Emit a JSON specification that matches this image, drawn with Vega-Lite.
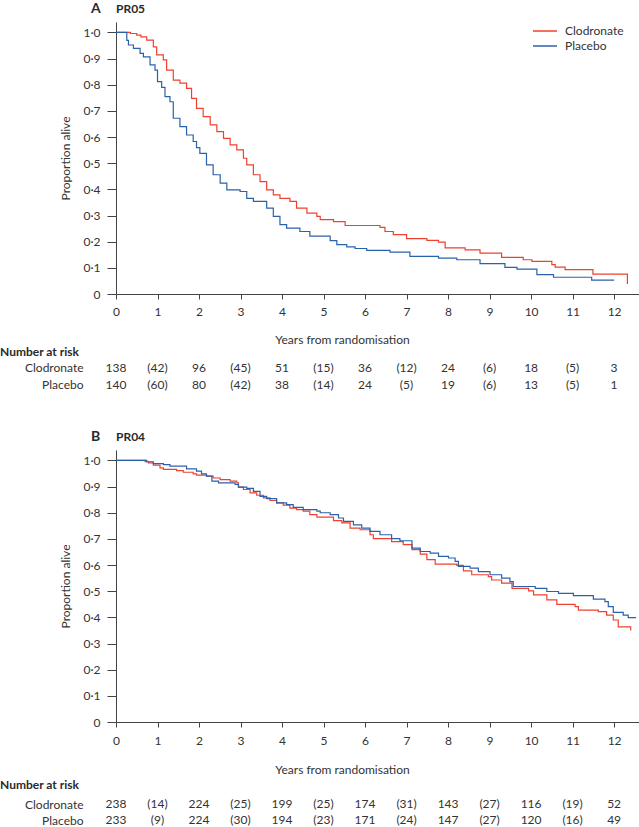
{
"$schema": "https://vega.github.io/schema/vega-lite/v6.json",
"padding": {"left": 0, "top": 1, "right": 0, "bottom": 0},
"background": "white",
"config": {
  "font": "Lato",
  "view": {"stroke": null},
  "axis": {"labelFont": "Lato", "labelFontSize": 12, "labelColor": "#333333", "titleFont": "Lato", "titleFontSize": 12, "titleFontWeight": "normal", "titleColor": "#333333", "domainColor": "#444444", "tickColor": "#444444", "grid": false, "labelFlush": false},
  "legend": {"labelFont": "Lato", "labelFontSize": 12, "labelColor": "#333333"},
  "title": {"font": "Lato", "color": "#2a2a2a"}
},
"datasets": {
"curves": [
{"panel":"A","arm":"Clodronate","t":0,"s":1},{"panel":"A","arm":"Clodronate","t":0.35,"s":0.996},{"panel":"A","arm":"Clodronate","t":0.5,"s":0.99},{"panel":"A","arm":"Clodronate","t":0.6,"s":0.983},{"panel":"A","arm":"Clodronate","t":0.74,"s":0.971},{"panel":"A","arm":"Clodronate","t":0.9,"s":0.945},{"panel":"A","arm":"Clodronate","t":0.98,"s":0.914},{"panel":"A","arm":"Clodronate","t":1.14,"s":0.895},{"panel":"A","arm":"Clodronate","t":1.22,"s":0.856},{"panel":"A","arm":"Clodronate","t":1.38,"s":0.818},{"panel":"A","arm":"Clodronate","t":1.54,"s":0.806},{"panel":"A","arm":"Clodronate","t":1.7,"s":0.786},{"panel":"A","arm":"Clodronate","t":1.82,"s":0.748},{"panel":"A","arm":"Clodronate","t":1.94,"s":0.71},{"panel":"A","arm":"Clodronate","t":2.1,"s":0.678},{"panel":"A","arm":"Clodronate","t":2.27,"s":0.647},{"panel":"A","arm":"Clodronate","t":2.43,"s":0.621},{"panel":"A","arm":"Clodronate","t":2.59,"s":0.595},{"panel":"A","arm":"Clodronate","t":2.75,"s":0.57},{"panel":"A","arm":"Clodronate","t":2.91,"s":0.551},{"panel":"A","arm":"Clodronate","t":3.07,"s":0.519},{"panel":"A","arm":"Clodronate","t":3.15,"s":0.494},{"panel":"A","arm":"Clodronate","t":3.31,"s":0.456},{"panel":"A","arm":"Clodronate","t":3.47,"s":0.43},{"panel":"A","arm":"Clodronate","t":3.63,"s":0.398},{"panel":"A","arm":"Clodronate","t":3.79,"s":0.379},{"panel":"A","arm":"Clodronate","t":3.95,"s":0.366},{"panel":"A","arm":"Clodronate","t":4.19,"s":0.354},{"panel":"A","arm":"Clodronate","t":4.35,"s":0.328},{"panel":"A","arm":"Clodronate","t":4.6,"s":0.309},{"panel":"A","arm":"Clodronate","t":4.84,"s":0.297},{"panel":"A","arm":"Clodronate","t":4.92,"s":0.284},{"panel":"A","arm":"Clodronate","t":5.24,"s":0.277},{"panel":"A","arm":"Clodronate","t":5.52,"s":0.262},{"panel":"A","arm":"Clodronate","t":6.36,"s":0.255},{"panel":"A","arm":"Clodronate","t":6.48,"s":0.239},{"panel":"A","arm":"Clodronate","t":6.68,"s":0.227},{"panel":"A","arm":"Clodronate","t":7.0,"s":0.212},{"panel":"A","arm":"Clodronate","t":7.49,"s":0.205},{"panel":"A","arm":"Clodronate","t":7.77,"s":0.198},{"panel":"A","arm":"Clodronate","t":7.93,"s":0.176},{"panel":"A","arm":"Clodronate","t":8.41,"s":0.169},{"panel":"A","arm":"Clodronate","t":8.77,"s":0.156},{"panel":"A","arm":"Clodronate","t":9.29,"s":0.14},{"panel":"A","arm":"Clodronate","t":9.81,"s":0.131},{"panel":"A","arm":"Clodronate","t":10.02,"s":0.125},{"panel":"A","arm":"Clodronate","t":10.5,"s":0.112},{"panel":"A","arm":"Clodronate","t":10.58,"s":0.103},{"panel":"A","arm":"Clodronate","t":10.82,"s":0.093},{"panel":"A","arm":"Clodronate","t":11.49,"s":0.076},{"panel":"A","arm":"Clodronate","t":12.32,"s":0.038},
{"panel":"A","arm":"Placebo","t":0,"s":1},{"panel":"A","arm":"Placebo","t":0.26,"s":0.97},{"panel":"A","arm":"Placebo","t":0.3,"s":0.952},{"panel":"A","arm":"Placebo","t":0.42,"s":0.939},{"panel":"A","arm":"Placebo","t":0.58,"s":0.92},{"panel":"A","arm":"Placebo","t":0.66,"s":0.907},{"panel":"A","arm":"Placebo","t":0.82,"s":0.876},{"panel":"A","arm":"Placebo","t":0.94,"s":0.856},{"panel":"A","arm":"Placebo","t":1.0,"s":0.812},{"panel":"A","arm":"Placebo","t":1.1,"s":0.79},{"panel":"A","arm":"Placebo","t":1.18,"s":0.755},{"panel":"A","arm":"Placebo","t":1.3,"s":0.735},{"panel":"A","arm":"Placebo","t":1.38,"s":0.672},{"panel":"A","arm":"Placebo","t":1.54,"s":0.64},{"panel":"A","arm":"Placebo","t":1.7,"s":0.608},{"panel":"A","arm":"Placebo","t":1.86,"s":0.583},{"panel":"A","arm":"Placebo","t":1.94,"s":0.56},{"panel":"A","arm":"Placebo","t":2.02,"s":0.538},{"panel":"A","arm":"Placebo","t":2.18,"s":0.494},{"panel":"A","arm":"Placebo","t":2.34,"s":0.456},{"panel":"A","arm":"Placebo","t":2.51,"s":0.424},{"panel":"A","arm":"Placebo","t":2.67,"s":0.398},{"panel":"A","arm":"Placebo","t":2.99,"s":0.392},{"panel":"A","arm":"Placebo","t":3.15,"s":0.366},{"panel":"A","arm":"Placebo","t":3.31,"s":0.354},{"panel":"A","arm":"Placebo","t":3.63,"s":0.328},{"panel":"A","arm":"Placebo","t":3.79,"s":0.297},{"panel":"A","arm":"Placebo","t":3.95,"s":0.265},{"panel":"A","arm":"Placebo","t":4.11,"s":0.252},{"panel":"A","arm":"Placebo","t":4.43,"s":0.239},{"panel":"A","arm":"Placebo","t":4.67,"s":0.221},{"panel":"A","arm":"Placebo","t":5.16,"s":0.204},{"panel":"A","arm":"Placebo","t":5.32,"s":0.189},{"panel":"A","arm":"Placebo","t":5.56,"s":0.18},{"panel":"A","arm":"Placebo","t":5.76,"s":0.174},{"panel":"A","arm":"Placebo","t":6.04,"s":0.167},{"panel":"A","arm":"Placebo","t":6.6,"s":0.16},{"panel":"A","arm":"Placebo","t":7.08,"s":0.144},{"panel":"A","arm":"Placebo","t":7.77,"s":0.137},{"panel":"A","arm":"Placebo","t":8.21,"s":0.131},{"panel":"A","arm":"Placebo","t":8.77,"s":0.116},{"panel":"A","arm":"Placebo","t":9.37,"s":0.102},{"panel":"A","arm":"Placebo","t":9.66,"s":0.095},{"panel":"A","arm":"Placebo","t":10.14,"s":0.074},{"panel":"A","arm":"Placebo","t":10.54,"s":0.064},{"panel":"A","arm":"Placebo","t":11.46,"s":0.053},{"panel":"A","arm":"Placebo","t":12.0,"s":0.053},
{"panel":"B","arm":"Clodronate","t":0,"s":1},{"panel":"B","arm":"Clodronate","t":0.7,"s":0.995},{"panel":"B","arm":"Clodronate","t":0.78,"s":0.991},{"panel":"B","arm":"Clodronate","t":0.9,"s":0.982},{"panel":"B","arm":"Clodronate","t":1.06,"s":0.972},{"panel":"B","arm":"Clodronate","t":1.14,"s":0.966},{"panel":"B","arm":"Clodronate","t":1.46,"s":0.961},{"panel":"B","arm":"Clodronate","t":1.62,"s":0.955},{"panel":"B","arm":"Clodronate","t":1.86,"s":0.949},{"panel":"B","arm":"Clodronate","t":1.94,"s":0.944},{"panel":"B","arm":"Clodronate","t":2.18,"s":0.94},{"panel":"B","arm":"Clodronate","t":2.34,"s":0.933},{"panel":"B","arm":"Clodronate","t":2.51,"s":0.927},{"panel":"B","arm":"Clodronate","t":2.75,"s":0.921},{"panel":"B","arm":"Clodronate","t":2.91,"s":0.914},{"panel":"B","arm":"Clodronate","t":2.95,"s":0.898},{"panel":"B","arm":"Clodronate","t":3.07,"s":0.889},{"panel":"B","arm":"Clodronate","t":3.23,"s":0.876},{"panel":"B","arm":"Clodronate","t":3.39,"s":0.867},{"panel":"B","arm":"Clodronate","t":3.55,"s":0.857},{"panel":"B","arm":"Clodronate","t":3.71,"s":0.847},{"panel":"B","arm":"Clodronate","t":3.87,"s":0.838},{"panel":"B","arm":"Clodronate","t":4.03,"s":0.829},{"panel":"B","arm":"Clodronate","t":4.19,"s":0.818},{"panel":"B","arm":"Clodronate","t":4.35,"s":0.812},{"panel":"B","arm":"Clodronate","t":4.51,"s":0.806},{"panel":"B","arm":"Clodronate","t":4.67,"s":0.793},{"panel":"B","arm":"Clodronate","t":4.84,"s":0.783},{"panel":"B","arm":"Clodronate","t":5.24,"s":0.77},{"panel":"B","arm":"Clodronate","t":5.44,"s":0.761},{"panel":"B","arm":"Clodronate","t":5.64,"s":0.741},{"panel":"B","arm":"Clodronate","t":5.88,"s":0.735},{"panel":"B","arm":"Clodronate","t":6.12,"s":0.716},{"panel":"B","arm":"Clodronate","t":6.2,"s":0.701},{"panel":"B","arm":"Clodronate","t":6.64,"s":0.69},{"panel":"B","arm":"Clodronate","t":6.92,"s":0.678},{"panel":"B","arm":"Clodronate","t":7.13,"s":0.659},{"panel":"B","arm":"Clodronate","t":7.33,"s":0.642},{"panel":"B","arm":"Clodronate","t":7.49,"s":0.621},{"panel":"B","arm":"Clodronate","t":7.69,"s":0.604},{"panel":"B","arm":"Clodronate","t":8.21,"s":0.599},{"panel":"B","arm":"Clodronate","t":8.37,"s":0.578},{"panel":"B","arm":"Clodronate","t":8.57,"s":0.563},{"panel":"B","arm":"Clodronate","t":8.97,"s":0.556},{"panel":"B","arm":"Clodronate","t":9.05,"s":0.543},{"panel":"B","arm":"Clodronate","t":9.29,"s":0.531},{"panel":"B","arm":"Clodronate","t":9.54,"s":0.511},{"panel":"B","arm":"Clodronate","t":9.94,"s":0.501},{"panel":"B","arm":"Clodronate","t":10.06,"s":0.486},{"panel":"B","arm":"Clodronate","t":10.38,"s":0.467},{"panel":"B","arm":"Clodronate","t":10.62,"s":0.45},{"panel":"B","arm":"Clodronate","t":11.06,"s":0.441},{"panel":"B","arm":"Clodronate","t":11.14,"s":0.428},{"panel":"B","arm":"Clodronate","t":11.62,"s":0.422},{"panel":"B","arm":"Clodronate","t":11.82,"s":0.409},{"panel":"B","arm":"Clodronate","t":11.98,"s":0.39},{"panel":"B","arm":"Clodronate","t":12.1,"s":0.364},{"panel":"B","arm":"Clodronate","t":12.4,"s":0.35},
{"panel":"B","arm":"Placebo","t":0,"s":1},{"panel":"B","arm":"Placebo","t":0.74,"s":0.995},{"panel":"B","arm":"Placebo","t":0.9,"s":0.988},{"panel":"B","arm":"Placebo","t":1.14,"s":0.984},{"panel":"B","arm":"Placebo","t":1.3,"s":0.978},{"panel":"B","arm":"Placebo","t":1.7,"s":0.968},{"panel":"B","arm":"Placebo","t":1.94,"s":0.959},{"panel":"B","arm":"Placebo","t":2.06,"s":0.949},{"panel":"B","arm":"Placebo","t":2.18,"s":0.94},{"panel":"B","arm":"Placebo","t":2.31,"s":0.921},{"panel":"B","arm":"Placebo","t":2.47,"s":0.914},{"panel":"B","arm":"Placebo","t":2.87,"s":0.908},{"panel":"B","arm":"Placebo","t":2.95,"s":0.898},{"panel":"B","arm":"Placebo","t":3.15,"s":0.893},{"panel":"B","arm":"Placebo","t":3.31,"s":0.882},{"panel":"B","arm":"Placebo","t":3.47,"s":0.863},{"panel":"B","arm":"Placebo","t":3.63,"s":0.854},{"panel":"B","arm":"Placebo","t":3.87,"s":0.838},{"panel":"B","arm":"Placebo","t":4.11,"s":0.831},{"panel":"B","arm":"Placebo","t":4.27,"s":0.821},{"panel":"B","arm":"Placebo","t":4.51,"s":0.812},{"panel":"B","arm":"Placebo","t":4.84,"s":0.806},{"panel":"B","arm":"Placebo","t":4.92,"s":0.8},{"panel":"B","arm":"Placebo","t":5.16,"s":0.793},{"panel":"B","arm":"Placebo","t":5.36,"s":0.78},{"panel":"B","arm":"Placebo","t":5.48,"s":0.767},{"panel":"B","arm":"Placebo","t":5.72,"s":0.754},{"panel":"B","arm":"Placebo","t":5.92,"s":0.741},{"panel":"B","arm":"Placebo","t":6.12,"s":0.729},{"panel":"B","arm":"Placebo","t":6.36,"s":0.716},{"panel":"B","arm":"Placebo","t":6.64,"s":0.701},{"panel":"B","arm":"Placebo","t":6.84,"s":0.693},{"panel":"B","arm":"Placebo","t":7.13,"s":0.665},{"panel":"B","arm":"Placebo","t":7.33,"s":0.652},{"panel":"B","arm":"Placebo","t":7.57,"s":0.646},{"panel":"B","arm":"Placebo","t":7.77,"s":0.633},{"panel":"B","arm":"Placebo","t":8.01,"s":0.627},{"panel":"B","arm":"Placebo","t":8.17,"s":0.614},{"panel":"B","arm":"Placebo","t":8.25,"s":0.595},{"panel":"B","arm":"Placebo","t":8.53,"s":0.588},{"panel":"B","arm":"Placebo","t":8.73,"s":0.575},{"panel":"B","arm":"Placebo","t":9.01,"s":0.563},{"panel":"B","arm":"Placebo","t":9.29,"s":0.55},{"panel":"B","arm":"Placebo","t":9.49,"s":0.537},{"panel":"B","arm":"Placebo","t":9.57,"s":0.518},{"panel":"B","arm":"Placebo","t":10.1,"s":0.511},{"panel":"B","arm":"Placebo","t":10.38,"s":0.499},{"panel":"B","arm":"Placebo","t":10.66,"s":0.492},{"panel":"B","arm":"Placebo","t":11.02,"s":0.483},{"panel":"B","arm":"Placebo","t":11.5,"s":0.47},{"panel":"B","arm":"Placebo","t":11.78,"s":0.46},{"panel":"B","arm":"Placebo","t":11.86,"s":0.441},{"panel":"B","arm":"Placebo","t":11.98,"s":0.419},{"panel":"B","arm":"Placebo","t":12.22,"s":0.409},{"panel":"B","arm":"Placebo","t":12.34,"s":0.399},{"panel":"B","arm":"Placebo","t":12.53,"s":0.399}
],
"risk": [
{"panel":"A","arm":"Clodronate","t":0,"n":"138"},{"panel":"A","arm":"Clodronate","t":1,"n":"(42)"},{"panel":"A","arm":"Clodronate","t":2,"n":"96"},{"panel":"A","arm":"Clodronate","t":3,"n":"(45)"},{"panel":"A","arm":"Clodronate","t":4,"n":"51"},{"panel":"A","arm":"Clodronate","t":5,"n":"(15)"},{"panel":"A","arm":"Clodronate","t":6,"n":"36"},{"panel":"A","arm":"Clodronate","t":7,"n":"(12)"},{"panel":"A","arm":"Clodronate","t":8,"n":"24"},{"panel":"A","arm":"Clodronate","t":9,"n":"(6)"},{"panel":"A","arm":"Clodronate","t":10,"n":"18"},{"panel":"A","arm":"Clodronate","t":11,"n":"(5)"},{"panel":"A","arm":"Clodronate","t":12,"n":"3"},
{"panel":"A","arm":"Placebo","t":0,"n":"140"},{"panel":"A","arm":"Placebo","t":1,"n":"(60)"},{"panel":"A","arm":"Placebo","t":2,"n":"80"},{"panel":"A","arm":"Placebo","t":3,"n":"(42)"},{"panel":"A","arm":"Placebo","t":4,"n":"38"},{"panel":"A","arm":"Placebo","t":5,"n":"(14)"},{"panel":"A","arm":"Placebo","t":6,"n":"24"},{"panel":"A","arm":"Placebo","t":7,"n":"(5)"},{"panel":"A","arm":"Placebo","t":8,"n":"19"},{"panel":"A","arm":"Placebo","t":9,"n":"(6)"},{"panel":"A","arm":"Placebo","t":10,"n":"13"},{"panel":"A","arm":"Placebo","t":11,"n":"(5)"},{"panel":"A","arm":"Placebo","t":12,"n":"1"},
{"panel":"B","arm":"Clodronate","t":0,"n":"238"},{"panel":"B","arm":"Clodronate","t":1,"n":"(14)"},{"panel":"B","arm":"Clodronate","t":2,"n":"224"},{"panel":"B","arm":"Clodronate","t":3,"n":"(25)"},{"panel":"B","arm":"Clodronate","t":4,"n":"199"},{"panel":"B","arm":"Clodronate","t":5,"n":"(25)"},{"panel":"B","arm":"Clodronate","t":6,"n":"174"},{"panel":"B","arm":"Clodronate","t":7,"n":"(31)"},{"panel":"B","arm":"Clodronate","t":8,"n":"143"},{"panel":"B","arm":"Clodronate","t":9,"n":"(27)"},{"panel":"B","arm":"Clodronate","t":10,"n":"116"},{"panel":"B","arm":"Clodronate","t":11,"n":"(19)"},{"panel":"B","arm":"Clodronate","t":12,"n":"52"},
{"panel":"B","arm":"Placebo","t":0,"n":"233"},{"panel":"B","arm":"Placebo","t":1,"n":"(9)"},{"panel":"B","arm":"Placebo","t":2,"n":"224"},{"panel":"B","arm":"Placebo","t":3,"n":"(30)"},{"panel":"B","arm":"Placebo","t":4,"n":"194"},{"panel":"B","arm":"Placebo","t":5,"n":"(23)"},{"panel":"B","arm":"Placebo","t":6,"n":"171"},{"panel":"B","arm":"Placebo","t":7,"n":"(24)"},{"panel":"B","arm":"Placebo","t":8,"n":"147"},{"panel":"B","arm":"Placebo","t":9,"n":"(27)"},{"panel":"B","arm":"Placebo","t":10,"n":"120"},{"panel":"B","arm":"Placebo","t":11,"n":"(16)"},{"panel":"B","arm":"Placebo","t":12,"n":"49"}
]
},
"spacing": 36,
"resolve": {"scale": {"color": "independent"}, "legend": {"color": "independent"}},
"vconcat": [
{
  "title": {"text": "A", "anchor": "start", "dx": 91, "offset": -12.7, "fontSize": 14, "fontWeight": "bold", "baseline": "top"},
  "spacing": 1,
  "resolve": {"scale": {"color": "independent"}, "legend": {"color": "independent"}},
  "vconcat": [
    {
      "data": {"name": "curves"},
      "transform": [{"filter": "datum.panel == 'A'"}],
      "title": {"text": "PR05", "anchor": "start", "frame": "group", "fontSize": 12, "fontWeight": "bold", "offset": 6, "baseline": "top"},
      "width": 523, "height": 272,
      "mark": {"type": "line", "interpolate": "step-after", "strokeWidth": 1.2},
      "encoding": {
        "x": {"field": "t", "type": "quantitative", "scale": {"domain": [0, 12.6], "nice": false, "zero": false},
              "axis": {"values": [0,1,2,3,4,5,6,7,8,9,10,11,12], "format": "d", "title": "Years from randomisation", "tickSize": 5, "labelPadding": 7, "titlePadding": 17, "titleX": 226}},
        "y": {"field": "s", "type": "quantitative", "scale": {"domain": [0, 1.04], "nice": false},
              "axis": {"values": [0,0.1,0.2,0.3,0.4,0.5,0.6,0.7,0.8,0.9,1], "labelExpr": "datum.value == 0 ? '0' : replace(format(datum.value, '.1f'), '.', '·')", "title": "Proportion alive", "tickSize": 9, "labelPadding": 7, "titlePadding": 10}},
        "color": {"field": "arm", "type": "nominal",
                  "scale": {"domain": ["Clodronate", "Placebo"], "range": ["#ef412e", "#2a62aa"]},
                  "legend": {"orient": "none", "legendX": 422, "legendY": 2, "title": null, "symbolType": "M-2,0H2", "symbolSize": 144, "symbolStrokeWidth": 1.5, "labelOffset": 13, "rowPadding": 2, "padding": 0}}
      }
    },
    {
      "data": {"name": "risk"},
      "transform": [{"filter": "datum.panel == 'A'"}],
      "title": {"text": "Number at risk", "anchor": "start", "frame": "group", "dx": -116, "fontSize": 12, "fontWeight": "bold", "offset": 0, "baseline": "top"},
      "width": 523, "height": 34,
      "mark": {"type": "text", "fontSize": 12, "color": "#333333", "baseline": "middle", "font": "Lato"},
      "encoding": {
        "x": {"field": "t", "type": "quantitative", "scale": {"domain": [0, 12.6], "nice": false}, "axis": null},
        "y": {"field": "arm", "type": "nominal", "scale": {"domain": ["Clodronate", "Placebo"]}, "axis": {"title": null, "ticks": false, "domain": false, "labelPadding": 33}},
        "text": {"field": "n"}
      }
    }
  ]
},
{
  "title": {"text": "B", "anchor": "start", "dx": 91, "offset": -12.7, "fontSize": 14, "fontWeight": "bold", "baseline": "top"},
  "spacing": 4,
  "resolve": {"scale": {"color": "independent"}, "legend": {"color": "independent"}},
  "vconcat": [
    {
      "data": {"name": "curves"},
      "transform": [{"filter": "datum.panel == 'B'"}],
      "title": {"text": "PR04", "anchor": "start", "frame": "group", "fontSize": 12, "fontWeight": "bold", "offset": 6, "baseline": "top"},
      "width": 523, "height": 272,
      "mark": {"type": "line", "interpolate": "step-after", "strokeWidth": 1.2},
      "encoding": {
        "x": {"field": "t", "type": "quantitative", "scale": {"domain": [0, 12.6], "nice": false, "zero": false},
              "axis": {"values": [0,1,2,3,4,5,6,7,8,9,10,11,12], "format": "d", "title": "Years from randomisation", "tickSize": 5, "labelPadding": 8, "titlePadding": 18, "titleX": 226}},
        "y": {"field": "s", "type": "quantitative", "scale": {"domain": [0, 1.04], "nice": false},
              "axis": {"values": [0,0.1,0.2,0.3,0.4,0.5,0.6,0.7,0.8,0.9,1], "labelExpr": "datum.value == 0 ? '0' : replace(format(datum.value, '.1f'), '.', '·')", "title": "Proportion alive", "tickSize": 9, "labelPadding": 7, "titlePadding": 10}},
        "color": {"field": "arm", "type": "nominal",
                  "scale": {"domain": ["Clodronate", "Placebo"], "range": ["#ef412e", "#2a62aa"]},
                  "legend": null}
      }
    },
    {
      "data": {"name": "risk"},
      "transform": [{"filter": "datum.panel == 'B'"}],
      "title": {"text": "Number at risk", "anchor": "start", "frame": "group", "dx": -116, "fontSize": 12, "fontWeight": "bold", "offset": 4, "baseline": "top"},
      "width": 523, "height": 32,
      "mark": {"type": "text", "fontSize": 12, "color": "#333333", "baseline": "middle", "font": "Lato"},
      "encoding": {
        "x": {"field": "t", "type": "quantitative", "scale": {"domain": [0, 12.6], "nice": false}, "axis": null},
        "y": {"field": "arm", "type": "nominal", "scale": {"domain": ["Clodronate", "Placebo"]}, "axis": {"title": null, "ticks": false, "domain": false, "labelPadding": 33}},
        "text": {"field": "n"}
      }
    }
  ]
}
]
}
